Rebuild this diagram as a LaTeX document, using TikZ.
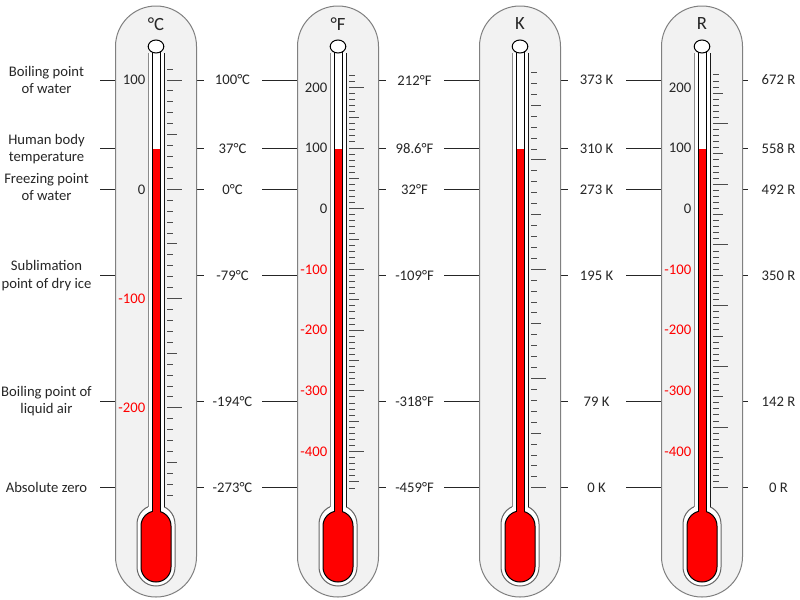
\documentclass[tikz,border=0pt]{standalone}
\usepackage{fontspec}
\setmainfont{Carlito}
\usetikzlibrary{positioning}
\definecolor{casefill}{HTML}{F2F2F2}
\definecolor{mercury}{HTML}{FF0000}
\colorlet{ink}{black!85}
\tikzset{
  casing/.style={fill=casefill, draw=black!50, line width=0.75pt, rounded corners=30.3pt},
  glass/.style={fill=white, draw=black!60, line width=0.75pt},
  bulb/.style={fill=mercury, draw=black, line width=0.75pt, rounded corners=11.2pt},
  wall/.style={draw=black, line width=0.75pt},
  scaletick/.style={draw=black!70, line width=0.75pt},
  guide/.style={draw=ink, line width=0.75pt},
  txt/.style={text=ink, font=\fontsize{11}{13}\selectfont},
  event/.style={txt, align=center},
  reading/.style={txt, fill=white, minimum width=43.5pt, inner xsep=0pt},
  scalenum/.style={txt, anchor=east, inner sep=0pt},
  unitname/.style={text=ink, font=\fontsize{14}{17}\selectfont}
}

\begin{document}
\begin{tikzpicture}[x=0.75pt, y=-0.75pt]
  \useasboundingbox (0,0) rectangle (800,600);

  % guide lines for the fixed points
  \foreach \row/\yy in {boil/80, body/148.9, freeze/189.3, subl/275.6, air/401.3, zero/487.7} {
    \coordinate (\row-a) at (100,\yy);
    \coordinate (\row-b) at (748,\yy);
    \draw[guide] (\row-a) -- (\row-b);
  }

  % the four thermometers
  \foreach \cx/\unit in {156/°C, 338/°F, 520/K, 702/R} {
    \draw[casing] (\cx-40.5,6) rectangle (\cx+40.5,597);
    \node[unitname] (head-\cx) at (\cx,24) {\unit};
    % glass tube and bulb
    \draw[glass, rounded corners=14.2pt] (\cx-19,505) rectangle (\cx+19,586);
    \fill[white] (\cx-8,53) rectangle (\cx+8,512);
    \draw[glass, fill=none, draw=black!45] (\cx-8,53) -- (\cx-8,507);
    \draw[glass, fill=none, draw=black!90] (\cx+8,53) -- (\cx+8,507);
    % mercury
    \draw[bulb] (\cx-15,511) rectangle (\cx+15,582);
    \fill[white] (\cx-4,50) rectangle (\cx+4,149);
    \fill[mercury] (\cx-4,149) rectangle (\cx+4,518);
    \draw[wall] (\cx-4,50) -- (\cx-4,511.6) (\cx+4,50) -- (\cx+4,511.6);
    \draw[wall, fill=white] (\cx,46.5) ellipse [x radius=7.8, y radius=6.5];
  }

  % ticks: every 10, longer at 50 and 100
  \foreach \cx/\s/\z/\lo/\nx/\hi in {156/1.093/0/-280/-270/110, 338/0.6072/32/-460/-450/220,
                                    520/1.093/273.15/0/10/380, 702/0.6072/491.67/0/10/680} {
    \foreach \v in {\lo,\nx,...,\hi} {
      \pgfmathsetmacro\yy{189.3-\s*(\v-\z)}
      \pgfmathsetmacro\len{mod(\v,100)==0 ? 15 : (mod(\v,50)==0 ? 10 : 5.5)}
      \draw[scaletick] (\cx+11,\yy) -- (\cx+11+\len,\yy);
    }
  }

  % scale numbers
  \foreach \v/\col in {100/ink, 0/ink, -100/red, -200/red} {
    \node[scalenum, text=\col] (num-156-\v) at ({145.5},{189.3-1.093*(\v)}) {\v};
  }
  \foreach \cx in {338,702} {
    \foreach \v/\col in {200/ink, 100/ink, 0/ink, -100/red, -200/red, -300/red, -400/red} {
      \node[scalenum, text=\col] (num-\cx-\v) at ({\cx-10.5},{189.3-0.6072*(\v-32)}) {\v};
    }
  }

  % readings on each scale
  \foreach \row/\yy/\tc/\tf/\tk/\tr in {boil/80/100°C/212°F/373 K/672 R,
      body/148.9/37°C/98.6°F/310 K/558 R, freeze/189.3/0°C/32°F/273 K/492 R,
      subl/275.6/-79°C/-109°F/195 K/350 R, air/401.3/-194°C/-318°F/79 K/142 R,
      zero/487.7/-273°C/-459°F/0 K/0 R} {
    \node[reading] (\row-c) at (232.5,\yy) {\tc};
    \node[reading] (\row-f) at (414.5,\yy) {\tf};
    \node[reading] (\row-k) at (596.5,\yy) {\tk};
    \node[reading] (\row-r) at (778.5,\yy) {\tr};
  }

  % fixed points
  \node[event] (boil-lbl) at (46.5,80) {Boiling point\\of water};
  \node[event] (body-lbl) at (46.5,148.9) {Human body\\temperature};
  \node[event] (freeze-lbl) at (46.5,187) {Freezing point\\of water};
  \node[event] (subl-lbl) at (46.5,275.6) {Sublimation\\point of dry ice};
  \node[event] (air-lbl) at (46.5,401.3) {Boiling point of\\liquid air};
  \node[event] (zero-lbl) at (46.5,487.7) {Absolute zero};
\end{tikzpicture}
\end{document}
